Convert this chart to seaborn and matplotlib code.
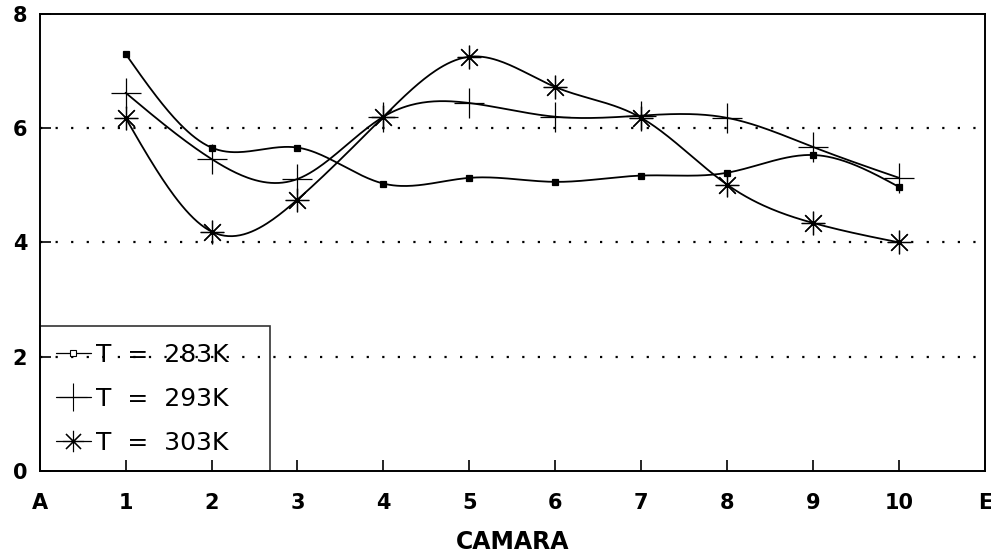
import numpy as np
import pandas as pd
import matplotlib
matplotlib.use("Agg")
import matplotlib.pyplot as plt
from matplotlib.lines import Line2D
import seaborn as sns

# ---- data ----
camara = [1, 2, 3, 4, 5, 6, 7, 8, 9, 10]
t283 = [7.30, 5.66, 5.66, 5.03, 5.13, 5.06, 5.17, 5.22, 5.53, 4.97]
t293 = [6.62, 5.46, 5.11, 6.20, 6.44, 6.20, 6.22, 6.18, 5.67, 5.13]
t303 = [6.18, 4.19, 4.75, 6.20, 7.25, 6.72, 6.18, 5.01, 4.34, 4.00]
series_labels = ["T  =  283K", "T  =  293K", "T  =  303K"]
xtick_pos = [0, 1, 2, 3, 4, 5, 6, 7, 8, 9, 10, 11]
xtick_labels = ["A", "1", "2", "3", "4", "5", "6", "7", "8", "9", "10", "E"]
yticks = [0, 2, 4, 6, 8]
grid_levels = [2, 4, 6]


def natural_spline(x, y, xs):
    x = np.asarray(x, float)
    y = np.asarray(y, float)
    n = len(x)
    h = np.diff(x)
    A = np.zeros((n, n))
    b = np.zeros(n)
    A[0, 0] = 1
    A[-1, -1] = 1
    for i in range(1, n - 1):
        A[i, i - 1] = h[i - 1]
        A[i, i] = 2 * (h[i - 1] + h[i])
        A[i, i + 1] = h[i]
        b[i] = 6 * ((y[i + 1] - y[i]) / h[i] - (y[i] - y[i - 1]) / h[i - 1])
    M = np.linalg.solve(A, b)
    out = np.empty_like(xs)
    for k, xv in enumerate(xs):
        i = min(max(np.searchsorted(x, xv) - 1, 0), n - 2)
        t1 = x[i + 1] - xv
        t0 = xv - x[i]
        out[k] = (M[i] * t1 ** 3 / (6 * h[i]) + M[i + 1] * t0 ** 3 / (6 * h[i])
                  + (y[i] / h[i] - M[i] * h[i] / 6) * t1
                  + (y[i + 1] / h[i] - M[i + 1] * h[i] / 6) * t0)
    return out


sns.set_style("ticks")
plt.rcParams["font.family"] = ["DejaVu Sans"]
plt.rcParams["text.color"] = "black"
plt.rcParams["axes.labelcolor"] = "black"

fig = plt.figure(figsize=(9.91, 5.56), dpi=100)
ax = fig.add_axes([0.040, 0.153, 0.954, 0.822])

for lvl in grid_levels:
    ax.axhline(lvl, color="black", linewidth=1.6, linestyle=(0, (1, 6)), zorder=1)

xs = np.linspace(camara[0], camara[-1], 400)
markers = ["s", "+", (8, 2, 0)]
msizes = [5, 22, 17]
handles = []
for vals, lab, mk, ms in zip([t283, t293, t303], series_labels, markers, msizes):
    smooth = pd.DataFrame({"x": xs, "y": natural_spline(camara, vals, xs)})
    sns.lineplot(data=smooth, x="x", y="y", ax=ax, color="black", linewidth=1.3,
                 sort=False, zorder=3)
    pts = pd.DataFrame({"x": camara, "y": vals})
    ax.plot(pts["x"], pts["y"], linestyle="none", marker=mk, markersize=ms,
            color="black", markeredgewidth=0.9, zorder=4)
    handles.append(Line2D([0], [0], color="black", linewidth=0.9, marker=mk,
                          markersize=ms * 0.9, markeredgewidth=0.8))
handles[0].set_markersize(4)
handles[0].set_markerfacecolor("white")

ax.set_xlim(0, 11)
ax.set_ylim(0, 8)
ax.set_xticks(xtick_pos)
ax.set_xticklabels(xtick_labels, fontweight="bold")
ax.set_yticks(yticks)
ax.set_yticklabels([str(v) for v in yticks], fontweight="bold")
ax.tick_params(axis="both", direction="in", length=8, width=1.2, labelsize=15,
               colors="black")
ax.tick_params(axis="x", pad=16)
ax.tick_params(axis="y", pad=9)
for sp in ax.spines.values():
    sp.set_visible(True)
    sp.set_color("black")
    sp.set_linewidth(1.4)
ax.set_xlabel("CAMARA", fontsize=17, fontweight="bold", labelpad=12)
ax.set_ylabel("")

leg = ax.legend(handles, series_labels, loc="lower left",
                bbox_to_anchor=(0, 0, 230 / 945, 0.3), mode="expand",
                borderaxespad=0, fontsize=18, handlelength=1.4, handletextpad=0.2,
                labelspacing=0.8, borderpad=0.65, fancybox=False, frameon=True,
                facecolor="none", edgecolor="black")
leg.get_frame().set_linewidth(1.2)
for t in leg.get_texts():
    t.set_color("black")

fig.savefig("out.png", dpi=100)
